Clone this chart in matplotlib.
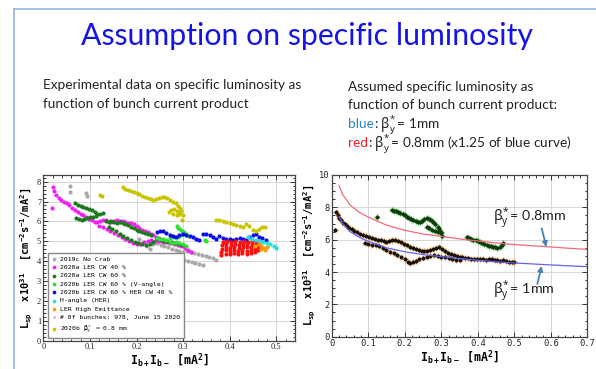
import matplotlib
matplotlib.use("Agg")
import matplotlib.pyplot as plt
from matplotlib.lines import Line2D
from matplotlib.ticker import MultipleLocator, AutoMinorLocator, FuncFormatter

# ---------------------------------------------------------------- left panel data
GRAY_X = [0.057, 0.057, 0.091, 0.094, 0.205, 0.214, 0.222, 0.228, 0.235,
          0.243, 0.252, 0.260, 0.268, 0.276, 0.284, 0.292, 0.300, 0.308, 0.316,
          0.324, 0.332, 0.340, 0.348, 0.356, 0.364, 0.371,
          0.262, 0.270, 0.278, 0.286, 0.294, 0.302, 0.310, 0.318, 0.326, 0.334, 0.342]
GRAY_Y = [7.78, 7.48, 7.42, 7.30, 5.10, 4.95, 4.75, 4.60, 4.85,
          4.90, 4.82, 4.75, 4.70, 4.62, 4.55, 4.50, 4.45, 4.50, 4.48,
          4.42, 4.38, 4.32, 4.25, 4.20, 4.14, 4.08,
          4.25, 4.20, 4.15, 4.10, 4.05, 4.05, 4.00, 3.95, 3.92, 3.87, 3.82]

MAGENTA_X = [0.018, 0.021, 0.024, 0.028, 0.033, 0.038, 0.044, 0.050, 0.056, 0.062,
             0.068, 0.074, 0.080, 0.086, 0.092, 0.098, 0.104, 0.110, 0.116, 0.122,
             0.128, 0.134, 0.140, 0.146, 0.152, 0.158, 0.164, 0.170, 0.176, 0.182,
             0.188, 0.194, 0.200, 0.206, 0.212, 0.218, 0.224, 0.230, 0.236, 0.242, 0.248,
             0.120, 0.128, 0.136, 0.144, 0.152, 0.160, 0.168, 0.176, 0.184, 0.192,
             0.200, 0.208, 0.216, 0.224, 0.232, 0.240, 0.248, 0.256, 0.264, 0.272,
             0.280, 0.288, 0.296, 0.304, 0.310, 0.316]
MAGENTA_Y = [6.66, 7.72, 7.55, 7.35, 7.18, 7.08, 6.98, 6.90, 6.80, 6.68,
             6.55, 6.48, 6.38, 6.30, 6.22, 6.12, 6.05, 5.98, 5.95, 6.02,
             6.08, 6.05, 5.98, 5.95, 6.00, 6.05, 6.02, 6.00, 5.95, 5.92,
             5.90, 5.85, 5.78, 5.68, 5.58, 5.50, 5.45, 5.35, 5.30, 5.22, 5.15,
             5.78, 5.70, 5.62, 5.52, 5.42, 5.30, 5.20, 5.10, 5.00, 4.92,
             4.88, 4.88, 4.95, 5.00, 5.05, 5.02, 5.00, 4.98, 4.95, 4.92,
             4.88, 4.82, 4.75, 4.65, 4.55, 4.48]

DKGREEN_X = [0.068, 0.074, 0.080, 0.086, 0.092, 0.098, 0.104, 0.110, 0.116, 0.122, 0.128,
             0.070, 0.076, 0.082, 0.088, 0.094, 0.100, 0.106, 0.112,
             0.134, 0.140, 0.146, 0.152, 0.158, 0.164, 0.170, 0.176, 0.182, 0.188,
             0.194, 0.200, 0.206, 0.212, 0.218, 0.224, 0.230,
             0.140, 0.148, 0.156, 0.164, 0.172, 0.180, 0.188, 0.196, 0.204, 0.212,
             0.220, 0.228, 0.236, 0.244, 0.252, 0.260, 0.268, 0.276, 0.284, 0.292, 0.300]
DKGREEN_Y = [6.92, 6.82, 6.75, 6.70, 6.65, 6.60, 6.55, 6.45, 6.38, 6.35, 6.40,
             6.15, 6.10, 6.05, 6.10, 6.15, 6.20, 6.22, 6.25,
             6.00, 5.95, 6.00, 5.98, 5.92, 5.95, 5.90, 5.85, 5.80, 5.72,
             5.65, 5.55, 5.50, 5.45, 5.40, 5.35, 5.30,
             5.70, 5.60, 5.50, 5.38, 5.25, 5.15, 5.05, 4.98, 4.90, 4.85,
             4.80, 4.88, 4.95, 5.10, 5.05, 5.00, 4.98, 4.95, 4.90, 4.85, 4.80]

LTGREEN_X = [0.243, 0.250, 0.257, 0.264, 0.271, 0.278, 0.285, 0.292, 0.299, 0.306,
             0.286, 0.290, 0.294, 0.298, 0.302, 0.306, 0.310, 0.296, 0.288, 0.280,
             0.272, 0.346, 0.350]
LTGREEN_Y = [5.15, 5.10, 5.12, 5.05, 4.95, 4.90, 4.95, 4.90, 4.85, 4.75,
             5.75, 5.68, 5.60, 5.52, 5.45, 5.35, 5.25, 5.30, 5.20, 5.20,
             5.15, 5.08, 5.00]

BLUE_X = [0.243, 0.250, 0.257, 0.264, 0.271, 0.278, 0.285, 0.292, 0.300, 0.307,
          0.314, 0.321, 0.328, 0.335, 0.343, 0.350, 0.357, 0.364, 0.371, 0.378,
          0.385, 0.392, 0.400, 0.407, 0.414, 0.421, 0.428, 0.435, 0.442, 0.449,
          0.456, 0.463, 0.470, 0.477]
BLUE_Y = [5.45, 5.50, 5.52, 5.42, 5.32, 5.28, 5.24, 5.30, 5.38, 5.32,
          5.28, 5.22, 5.12, 5.05, 5.38, 5.35, 5.30, 5.22, 5.10, 5.25,
          5.18, 5.12, 5.10, 5.08, 5.12, 5.15, 5.10, 5.05, 5.20, 5.30,
          5.35, 5.20, 5.15, 5.05]

RED_X = [0.382, 0.382, 0.383, 0.384, 0.385, 0.391, 0.391, 0.392, 0.393, 0.394,
         0.400, 0.400, 0.401, 0.402, 0.403, 0.409, 0.409, 0.410, 0.411, 0.412,
         0.418, 0.418, 0.419, 0.420, 0.421, 0.427, 0.427, 0.428, 0.429, 0.430,
         0.436, 0.436, 0.437, 0.438, 0.439, 0.445, 0.445, 0.446, 0.447, 0.448,
         0.454, 0.454, 0.455, 0.456, 0.457, 0.460, 0.461, 0.462]
RED_Y = [4.32, 4.48, 4.64, 4.80, 4.95, 4.38, 4.55, 4.70, 4.85, 5.00,
         4.35, 4.50, 4.66, 4.82, 4.97, 4.40, 4.56, 4.72, 4.88, 5.02,
         4.36, 4.52, 4.68, 4.84, 4.98, 4.40, 4.56, 4.72, 4.86, 5.00,
         4.38, 4.54, 4.70, 4.85, 4.98, 4.42, 4.58, 4.74, 4.88, 5.02,
         4.45, 4.60, 4.75, 4.90, 5.00, 4.55, 4.70, 4.85]

CYAN_X = [0.440, 0.448, 0.456, 0.464, 0.472, 0.480, 0.487, 0.494, 0.500]
CYAN_Y = [5.20, 5.12, 5.05, 5.00, 4.98, 4.92, 4.85, 4.75, 4.65]

ORANGE_X = [0.455, 0.462, 0.468, 0.474, 0.480, 0.476, 0.466]
ORANGE_Y = [4.78, 4.85, 4.75, 4.68, 4.72, 4.58, 4.62]

YELLOW_X = [0.121, 0.125, 0.171, 0.176, 0.182, 0.188, 0.194, 0.200, 0.206, 0.212,
            0.218, 0.224, 0.230, 0.236, 0.242, 0.248, 0.254, 0.260, 0.266, 0.272,
            0.278, 0.284, 0.290, 0.294, 0.296, 0.292, 0.286, 0.280, 0.274, 0.270,
            0.278, 0.286, 0.294, 0.300, 0.298,
            0.371, 0.378, 0.385, 0.392, 0.400, 0.407, 0.414, 0.421, 0.428, 0.435,
            0.442, 0.449, 0.456, 0.463, 0.470, 0.476]
YELLOW_Y = [7.33, 7.26, 7.72, 7.65, 7.58, 7.52, 7.48, 7.42, 7.36, 7.30,
            7.24, 7.18, 7.14, 7.10, 7.12, 7.18, 7.22, 7.25, 7.20, 7.10,
            7.00, 6.90, 6.78, 6.65, 6.50, 6.40, 6.50, 6.60, 6.55, 6.45,
            6.35, 6.30, 6.35, 6.30, 6.05,
            6.08, 6.05, 6.00, 5.96, 5.92, 5.88, 5.83, 5.78, 5.70, 5.88,
            5.78, 5.55, 5.50, 5.60, 5.70, 5.72]

# ---------------------------------------------------------------- right panel data
BLACK_X = [0.012, 0.016, 0.020, 0.025, 0.030, 0.036, 0.042, 0.048, 0.055, 0.062,
           0.070, 0.078, 0.086, 0.094, 0.102, 0.110, 0.118, 0.126, 0.134, 0.142,
           0.150, 0.158, 0.166, 0.174, 0.182, 0.190, 0.198, 0.206, 0.214, 0.222,
           0.230, 0.238, 0.246, 0.254, 0.262, 0.270, 0.278, 0.286, 0.294, 0.302,
           0.310, 0.318, 0.326, 0.334, 0.342, 0.350, 0.358, 0.366, 0.374, 0.382,
           0.390, 0.398, 0.406, 0.414, 0.422, 0.430, 0.438, 0.446, 0.454, 0.462,
           0.470, 0.478, 0.486, 0.494, 0.500,
           0.008, 0.090, 0.100, 0.110, 0.120, 0.130, 0.140, 0.150, 0.160, 0.170,
           0.180, 0.190, 0.200, 0.208, 0.214, 0.222, 0.230, 0.240, 0.250, 0.260,
           0.270, 0.280, 0.290, 0.300, 0.310, 0.320, 0.330, 0.340, 0.350]
BLACK_Y = [7.70, 7.50, 7.35, 7.20, 7.05, 6.95, 6.85, 6.75, 6.65, 6.55,
           6.45, 6.38, 6.30, 6.22, 6.15, 6.10, 6.05, 6.00, 5.98, 5.92,
           5.88, 5.92, 5.98, 5.95, 5.90, 5.85, 5.75, 5.65, 5.55, 5.48,
           5.42, 5.38, 5.32, 5.28, 5.30, 5.35, 5.40, 5.50, 5.55, 5.45,
           5.30, 5.20, 5.12, 5.05, 5.00, 4.95, 4.90, 4.88, 4.85, 4.80,
           4.78, 4.80, 4.82, 4.78, 4.75, 4.78, 4.80, 4.75, 4.72, 4.70,
           4.72, 4.68, 4.65, 4.62, 4.65,
           6.60, 5.80, 5.75, 5.70, 5.65, 5.58, 5.48, 5.38, 5.25, 5.15,
           5.05, 4.95, 4.80, 4.65, 4.55, 4.60, 4.70, 4.80, 4.88, 4.95,
           5.00, 5.05, 5.00, 4.95, 4.90, 4.85, 4.80, 4.75, 4.72]

GREEN_X = [0.123, 0.164, 0.170, 0.176, 0.182, 0.188, 0.194, 0.200, 0.206, 0.212,
           0.218, 0.224, 0.230, 0.236, 0.242, 0.248, 0.254, 0.260, 0.266, 0.272,
           0.278, 0.284, 0.290, 0.295, 0.298, 0.290, 0.282, 0.274, 0.266, 0.260,
           0.300, 0.302,
           0.370, 0.376, 0.382, 0.388, 0.394, 0.400, 0.406, 0.412, 0.418, 0.424,
           0.430, 0.436, 0.442, 0.448, 0.454, 0.460, 0.466, 0.470]
GREEN_Y = [7.38, 7.84, 7.80, 7.76, 7.73, 7.68, 7.60, 7.50, 7.42, 7.35,
           7.28, 7.22, 7.18, 7.12, 7.10, 7.15, 7.25, 7.32, 7.30, 7.22,
           7.12, 6.95, 6.80, 6.65, 6.50, 6.45, 6.55, 6.60, 6.70, 6.80,
           6.42, 6.20,
           6.14, 6.10, 6.05, 5.98, 5.95, 5.92, 5.88, 5.82, 5.75, 5.68,
           5.62, 5.58, 5.55, 5.52, 5.50, 5.53, 5.65, 5.77]

CURVE_X = [0.02, 0.03, 0.05, 0.075, 0.10, 0.15, 0.20, 0.25, 0.30, 0.35,
           0.40, 0.45, 0.50, 0.55, 0.60, 0.65, 0.70]
CURVE_1MM = [7.45, 7.00, 6.50, 6.15, 5.90, 5.50, 5.25, 5.08, 4.95, 4.83,
             4.73, 4.63, 4.56, 4.50, 4.44, 4.38, 4.33]
CURVE_08MM = [9.35, 8.80, 8.15, 7.70, 7.40, 6.90, 6.58, 6.35, 6.20, 6.05,
              5.92, 5.80, 5.70, 5.62, 5.55, 5.47, 5.40]

LEGEND_LABELS = ["2019c No Crab", "2020a LER CW 40 %", "2020a LER CW 60 %",
                 "2020b LER CW 60 % (V-angle)", "2020b LER CW 60 % HER CW 40 %",
                 "H-angle (HER)", "LER High Emittance",
                 "# 0f bunches: 978, June 15 2020",
                 r"2020b $\mathtt{\beta_y^*}$ = 0.8 mm"]

# ---------------------------------------------------------------- style
SLIDE = ["Lato", "DejaVu Sans"]
MONO = "DejaVu Sans Mono"
plt.rcParams.update({
    "mathtext.fontset": "custom",
    "mathtext.rm": "Noto Sans",
    "mathtext.it": "Noto Sans:italic",
    "mathtext.bf": "DejaVu Sans Mono:bold",
    "mathtext.tt": "DejaVu Sans Mono",
    "mathtext.sf": "DejaVu Sans Mono",
})

W, H = 596, 369
fig = plt.figure(figsize=(W / 100, H / 100), dpi=100)


def fx(px):
    return px / W


def fy(py):
    return 1 - py / H


# slide frame lines
fig.add_artist(Line2D([fx(14), fx(14)], [fy(9), 0], color="#8EB4E3", lw=1.2))
fig.add_artist(Line2D([fx(14), 1], [fy(9), fy(9)], color="#8EB4E3", lw=1.2))

fig.text(fx(307), fy(45), "Assumption on specific luminosity", ha="center",
         va="baseline", fontsize=21.8, color="#1414E6", family=SLIDE)

TXT = "#222222"
SUB = 9.8
fig.text(fx(42.7), fy(89.3), "Experimental data on specific luminosity as",
         fontsize=SUB, color=TXT, family=SLIDE, va="baseline")
fig.text(fx(42.7), fy(108), "function of bunch current product",
         fontsize=SUB, color=TXT, family=SLIDE, va="baseline")
fig.text(fx(347.7), fy(90.7), "Assumed specific luminosity as",
         fontsize=SUB, color=TXT, family=SLIDE, va="baseline")
fig.text(fx(347.7), fy(109.3), "function of bunch current product:",
         fontsize=SUB, color=TXT, family=SLIDE, va="baseline")


def put_parts(px, py, parts, size=SUB):
    """여러 색 조각을 이어 붙여 한 줄로."""
    r = fig.canvas.get_renderer()
    x = fx(px)
    for text, color in parts:
        t = fig.text(x, fy(py), text, color=color, fontsize=size,
                     family=SLIDE, va="baseline")
        x += t.get_window_extent(r).width / W


BETA = r"$\mathrm{\beta_y^{\!*}}$"
put_parts(347.7, 128.3, [("blue", "#2E86C8"), (": " + BETA + "= 1mm", TXT)])
put_parts(347.7, 147.3, [("red", "#F01E1E"),
                         (": " + BETA + "= 0.8mm (x1.25 of blue curve)", TXT)])


def style_axes(ax, labelsize, family):
    ax.grid(True, which="major", color="#d0d0d0", lw=0.6)
    ax.set_axisbelow(True)
    ax.tick_params(which="both", direction="in", top=True, right=True,
                   width=0.7, colors="#333333", labelcolor="#222222")
    ax.tick_params(which="major", length=3.5, labelsize=labelsize,
                   labelfontfamily=family, pad=1.5)
    ax.tick_params(which="minor", length=1.8)
    for s in ax.spines.values():
        s.set_color("#444444")
        s.set_linewidth(0.9)
    ax.xaxis.set_major_formatter(FuncFormatter(lambda v, _: "0" if abs(v) < 1e-9 else f"{v:g}"))


YLABEL = r"L$_\mathbf{sp}$  x10$^\mathbf{31}$  [cm$^\mathbf{-2}$s$^\mathbf{-1}$/mA$^\mathbf{2}$]"
XLABEL = r"I$_\mathbf{b+}$I$_\mathbf{b-}$ [mA$^\mathbf{2}$]"

# ---------------------------------------------------------------- left panel
ax1 = fig.add_axes([fx(43.3), fy(341), (295 - 43.3) / W, (341 - 175) / H])
ax1.set_xlim(0, 0.54)
ax1.set_ylim(0, 8.33)
ax1.xaxis.set_major_locator(MultipleLocator(0.1))
ax1.yaxis.set_major_locator(MultipleLocator(1))
ax1.xaxis.set_minor_locator(AutoMinorLocator(5))
ax1.yaxis.set_minor_locator(AutoMinorLocator(5))
style_axes(ax1, 6, "Liberation Serif")

dot = dict(s=9, linewidths=0)
h_gray = ax1.scatter(GRAY_X, GRAY_Y, c="#a8a8a8", label=LEGEND_LABELS[0], **dot)
h_mag = ax1.scatter(MAGENTA_X, MAGENTA_Y, c="#F020F0", label=LEGEND_LABELS[1], **dot)
h_dkg = ax1.scatter(DKGREEN_X, DKGREEN_Y, c="#1C7A1C", label=LEGEND_LABELS[2], **dot)
h_ltg = ax1.scatter(LTGREEN_X, LTGREEN_Y, c="#30E030", label=LEGEND_LABELS[3], **dot)
h_blue = ax1.scatter(BLUE_X, BLUE_Y, c="#0A0AEE", label=LEGEND_LABELS[4], **dot)
ax1.scatter(RED_X, RED_Y, c="#FF1010", **dot)
h_cyan = ax1.scatter(CYAN_X, CYAN_Y, c="#20E0E0", label=LEGEND_LABELS[5], **dot)
h_or = ax1.scatter(ORANGE_X, ORANGE_Y, c="#FF9A10", label=LEGEND_LABELS[6], **dot)
h_yel = ax1.scatter(YELLOW_X, YELLOW_Y, c="#C8C400", label=LEGEND_LABELS[8], **dot)
h_bunch = Line2D([], [], ls="none", marker=".", ms=1.5, color="#E090B0")

leg = ax1.legend([h_gray, h_mag, h_dkg, h_ltg, h_blue, h_cyan, h_or, h_bunch, h_yel],
                 LEGEND_LABELS, loc="lower left", bbox_to_anchor=(0.019, 0.018),
                 prop={"family": MONO, "size": 4.6}, frameon=True, fancybox=False,
                 borderpad=0.5, labelspacing=0.45, handlelength=0.8, handletextpad=0.6,
                 borderaxespad=0, markerscale=0.9)
leg.get_frame().set_edgecolor("#888888")
leg.get_frame().set_linewidth(1.0)
leg.get_frame().set_alpha(1)

ax1.set_ylabel(YLABEL, family=MONO, weight="bold", fontsize=7.5, labelpad=1.5)
ax1.set_xlabel(XLABEL, family=MONO, weight="bold", fontsize=8.3, labelpad=0.5)

# ---------------------------------------------------------------- right panel
ax2 = fig.add_axes([fx(331.7), fy(336.7), (587.3 - 331.7) / W, (336.7 - 175) / H])
ax2.set_xlim(0, 0.7)
ax2.set_ylim(0, 10)
ax2.xaxis.set_major_locator(MultipleLocator(0.1))
ax2.yaxis.set_major_locator(MultipleLocator(2))
ax2.xaxis.set_minor_locator(AutoMinorLocator(5))
ax2.yaxis.set_minor_locator(AutoMinorLocator(4))
style_axes(ax2, 6.3, MONO)

ax2.plot(CURVE_X, CURVE_08MM, color="#F06A78", lw=0.9)
ax2.plot(CURVE_X, CURVE_1MM, color="#6464F0", lw=0.9)
ax2.scatter(GREEN_X, GREEN_Y, marker="+", s=24, c="#44C044", linewidths=1.0)
ax2.scatter(GREEN_X, GREEN_Y, s=8, c="#0E3A0E", linewidths=0)
ax2.scatter(BLACK_X, BLACK_Y, marker="+", s=24, c="#E2A24A", linewidths=1.0)
ax2.scatter(BLACK_X, BLACK_Y, s=8, c="#1A1208", linewidths=0)

ax2.text(0.4426, 7.11, BETA + "= 0.8mm", fontsize=10.3, color=TXT, family=SLIDE)
ax2.text(0.4426, 2.58, BETA + "= 1mm", fontsize=10.3, color=TXT, family=SLIDE)
arrow = dict(arrowstyle="-|>", color="#4A7EBB", lw=1.3, mutation_scale=7, shrinkA=0, shrinkB=0)
ax2.annotate("", xy=(0.588, 5.55), xytext=(0.575, 6.7), arrowprops=arrow)
ax2.annotate("", xy=(0.575, 4.37), xytext=(0.563, 3.26), arrowprops=arrow)

ax2.set_ylabel(YLABEL, family=MONO, weight="bold", fontsize=7.5, labelpad=1)
ax2.set_xlabel(XLABEL, family=MONO, weight="bold", fontsize=8.3, labelpad=0.5)

fig.savefig("out.png", dpi=100)
